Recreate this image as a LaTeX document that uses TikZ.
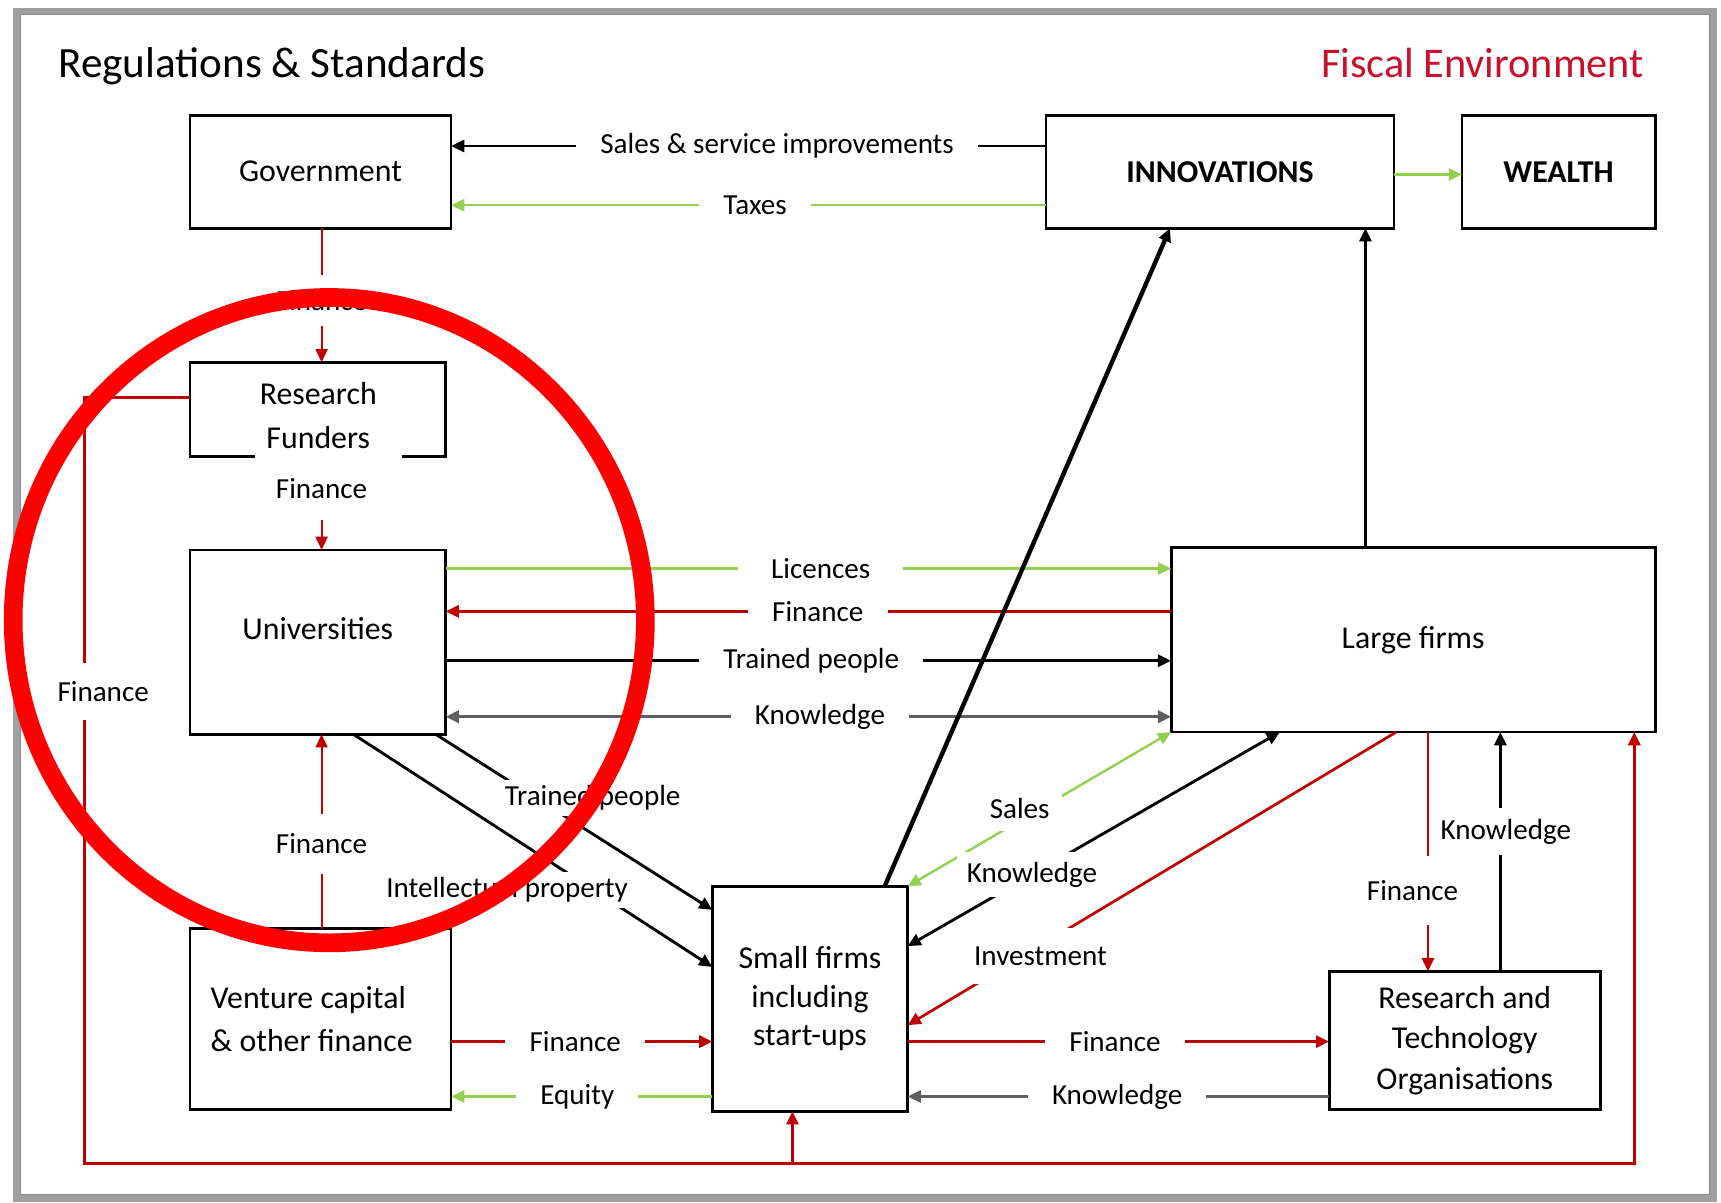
\documentclass[tikz,border=0pt]{standalone}
\usepackage{fontspec}
\setmainfont{Carlito}
\usetikzlibrary{arrows.meta}
\definecolor{lgreen}{RGB}{146,208,80}
\definecolor{dred}{RGB}{192,0,0}
\definecolor{fiscal}{RGB}{200,16,46}
\definecolor{kgray}{RGB}{95,95,95}
\definecolor{framegray}{RGB}{160,160,160}
\newcommand\myboxfont{\fontsize{29}{36}\selectfont}
\newcommand\mylblfont{\fontsize{26.5}{30}\selectfont}
\newcommand\mytitlefont{\fontsize{38.5}{44}\selectfont}
\begin{document}
\begin{tikzpicture}[x=1pt,y=-1pt,
  >={Triangle[length=12pt,width=11pt]},
  box/.style={draw=black, line width=2.5pt, inner sep=0pt, outer sep=0pt, font=\myboxfont, align=center, fill=white},
  boxline/.style={draw=black, line width=2.5pt},
  lbl/.style={fill=white, font=\mylblfont, inner xsep=22pt, inner ysep=5pt, text=black},
  lblv/.style={lbl, inner xsep=4pt, inner ysep=14pt},
  lbld/.style={lbl, inner sep=5pt},
  blk/.style={draw=black, line width=2.6pt},
  grn/.style={draw=lgreen, line width=2.2pt},
  redl/.style={draw=dred, line width=2.5pt},
  redt/.style={draw=dred, line width=1.8pt},
  gry/.style={draw=kgray, line width=3pt},
  thk/.style={draw=black, line width=4pt}
]
\fill[white] (0,0) rectangle (1568,1096);
\useasboundingbox (0,0) rectangle (1568,1096);
\draw[line width=6pt, framegray] (15,10) rectangle (1561,1092);
\draw[line width=1.2pt, gray!90] (18.5,13.5) rectangle (1557.5,1088.5);

\node[anchor=base west, font=\fontsize{39.3}{44}\selectfont, inner sep=0pt] (title) at (53,71) {Regulations \& Standards};
\node[anchor=base east, font=\mytitlefont, inner sep=0pt, text=fiscal] (fiscal) at (1498,71) {Fiscal Environment};

% boxes
\node[box, minimum width=238pt, minimum height=103pt] (gov) at (292,156.5) {Government};
\node[box, minimum width=317pt, minimum height=103pt, font=\myboxfont\bfseries] (innov) at (1111.5,156.5) {INNOVATIONS};
\node[box, minimum width=176pt, minimum height=103pt, font=\myboxfont\bfseries] (wealth) at (1420,156.5) {WEALTH};
\node[box, draw=none, fill=none, minimum width=233pt, minimum height=86pt] (rf) at (289.5,373) {};
\draw[boxline] (rf.south -| 232,0) -- (rf.south west) -- (rf.north west) -- (rf.north east) -- (rf.south east) -- (rf.south -| 366,0);
\node[font={\fontsize{29}{40}\selectfont}, align=center, inner sep=0pt] (rftext) at (290,379) {Research\\Funders};
\node[box, minimum width=233pt, minimum height=168pt] (univ) at (289.5,585) {\raisebox{25pt}{Universities}};
\node[box, minimum width=238pt, minimum height=165pt, align=left, font={\fontsize{29}{39}\selectfont}] (vc) at (292,928.5) {Venture capital\\\& other finance\hspace*{16pt}};
\node[box, minimum width=178pt, minimum height=205pt, font={\fontsize{29}{35}\selectfont}] (sf) at (738,910) {Small firms\\including\\start-ups};
\node[box, minimum width=441pt, minimum height=168pt] (lf) at (1287.5,583) {Large firms};
\node[box, minimum width=247pt, minimum height=126pt, font={\fontsize{29}{37}\selectfont}] (rto) at (1334.5,948) {Research and\\Technology\\Organisations};

% top connectors
\draw[blk,->] (innov.west |- 0,133) -- node[lbl,pos=0.452]{Sales \& service improvements} (gov.east |- 0,133);
\draw[grn,->] (innov.west |- 0,187) -- node[lbl,pos=0.489]{Taxes} (gov.east |- 0,187);
\draw[grn,->] (innov.east |- 0,159) -- (wealth.west |- 0,159);

% vertical finance on the left
\draw[redt,->] (gov.south -| 293,0) -- node[lblv,pos=0.54]{Finance} (rf.north -| 293,0);
\draw[redt,->] (rf.south -| 293,0) -- node[lblv,pos=0.34,inner ysep=20pt]{Finance} (univ.north -| 293,0);
\draw[redt,->] (vc.north -| 293,0) -- node[lblv,pos=0.435,inner ysep=18pt]{Finance} (univ.south -| 293,0);

% big finance loop
\coordinate (j) at (722,1060);
\draw[redl,->] (rf.west |- 0,362) -- (77,362) -- node[lblv,pos=0.384,xshift=17pt,inner ysep=17pt]{Finance} (77,1060) -- (1489,1060) -- (lf.south -| 1489,0);
\draw[redl,->] (j) -- (sf.south -| j);

% universities <-> large firms
\draw[grn,->] (univ.east |- 0,518) -- node[lbl,pos=0.517,inner xsep=30pt]{Licences} (lf.west |- 0,518);
\draw[redl,->] (lf.west |- 0,557) -- node[lbl,pos=0.487]{Finance} (univ.east |- 0,557);
\draw[blk,->] (univ.east |- 0,602) -- node[lbl,pos=0.504]{Trained people} (lf.west |- 0,602);
\draw[gry,<->] (univ.east |- 0,653) -- node[lbl,pos=0.516]{Knowledge} (lf.west |- 0,653);

% universities -> small firms
\draw[blk,->] (univ.south -| 397,0) -- (sf.west |- 0,829) node[lbld] at (540,727) {Trained people};
\draw[blk,->] (univ.south -| 322,0) -- (sf.west |- 0,881) node[lbld] at (462,811) {Intellectual property};

% large firms -> innovations
\draw[blk,->] (lf.north -| 1244,0) -- (innov.south -| 1244,0);

% large firms <-> small firms
\draw[grn,<->] (lf.south west) -- (sf.north east) node[lbld,inner sep=11pt] at (929,737) {Sales};
\draw[blk,<->] (lf.south -| 1166,0) -- node[lbld,pos=0.666,inner sep=9pt]{Knowledge} (sf.east |- 0,862);
\draw[redl,->] (lf.south -| 1272,0) -- (sf.east |- 0,934) node[lbld,inner xsep=4pt,inner ysep=17pt] at (948,871) {Investment};

% small firms -> innovations
\draw[thk,->] (sf.north -| 806,0) -- (innov.south -| 1066,0);

% large firms <-> RTO
\draw[redt,->] (lf.south -| 1301,0) -- node[lblv,pos=0.663,xshift=-14pt,inner ysep=22pt]{Finance} (rto.north -| 1301,0);
\draw[blk,->] (rto.north -| 1367,0) -- node[lblv,pos=0.583,xshift=5pt,inner ysep=10pt]{Knowledge} (lf.south -| 1367,0);

% small firms <-> RTO
\draw[redl,->] (sf.east |- 0,949) -- node[lbl,pos=0.492]{Finance} (rto.west |- 0,949);
\draw[gry,->] (rto.west |- 0,999) -- node[lbl,pos=0.503]{Knowledge} (sf.east |- 0,999);

% venture capital <-> small firms
\draw[redl,->] (vc.east |- 0,949) -- node[lbl,pos=0.475]{Finance} (sf.west |- 0,949);
\draw[grn,->] (sf.west |- 0,999) -- node[lbl,pos=0.517]{Equity} (vc.east |- 0,999);

% red highlight circle
\draw[line width=17pt, red] (300,565) ellipse [x radius=288, y radius=294];
\end{tikzpicture}
\end{document}
